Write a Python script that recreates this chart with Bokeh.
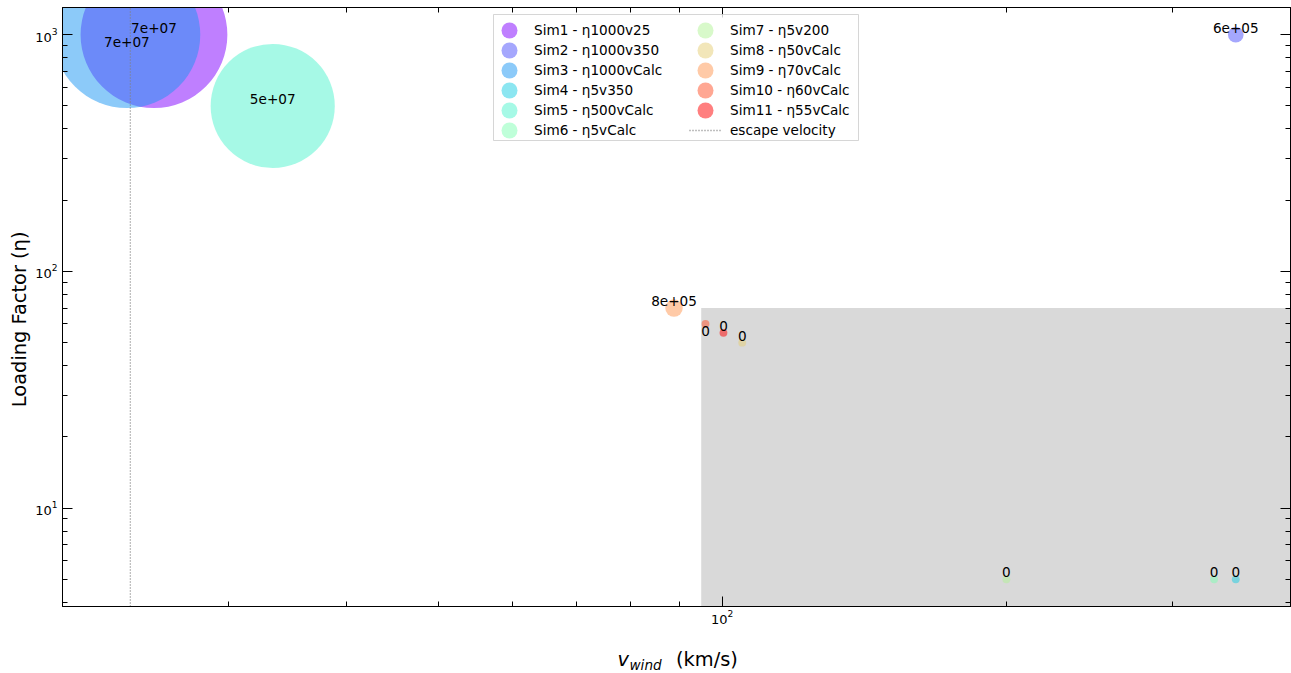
import math

from bokeh.plotting import figure
from bokeh.layouts import column
from bokeh.models import (ColumnDataSource, Range1d, LogAxis, FixedTicker,
                          BoxAnnotation, Legend, LegendItem, Label)
from bokeh.core.properties import value
from bokeh.embed import file_html
from bokeh.resources import INLINE

# ---- simulation runs -------------------------------------------------------
sim_names = ["Sim1", "Sim2", "Sim3", "Sim4", "Sim5", "Sim6",
             "Sim7", "Sim8", "Sim9", "Sim10", "Sim11"]
run_tags = ["η1000v25", "η1000v350", "η1000vCalc", "η5v350", "η500vCalc",
            "η5vCalc", "η5v200", "η50vCalc", "η70vCalc", "η60vCalc", "η55vCalc"]
v_wind = [25.0, 350.0, 23.4, 350.0, 33.4, 332.0, 200.0, 105.0, 88.9, 96.0, 100.3]
loading = [1000, 1000, 1000, 5, 500, 5, 5, 50, 70, 60, 55]
bubble_value = [7e7, 6e5, 7e7, 0, 5e7, 0, 0, 0, 8e5, 0, 0]

# reference quantities
v_escape = 23.6
box_v_min = 95.0
box_eta_max = 70.0

# axis extents and ticks
x_lo, x_hi = 20.0, 400.0
y_lo, y_hi = 3.84, 1303.0
x_major = [100]
x_minor = [20, 30, 40, 50, 60, 70, 80, 90, 200, 300, 400]
y_major = [10, 100, 1000]
y_minor = [4, 5, 6, 7, 8, 9, 20, 30, 40, 50, 60, 70, 80, 90,
           200, 300, 400, 500, 600, 700, 800, 900]

# which value labels sit below their marker instead of above
label_below = [False, False, True, False, False, False,
               False, False, False, True, False]

FONT = "DejaVu Sans"


def rainbow(t):
    """matplotlib's 'rainbow' colormap."""
    r = min(1.0, max(0.0, abs(2 * t - 0.5)))
    g = min(1.0, max(0.0, math.sin(math.pi * t)))
    b = min(1.0, max(0.0, math.cos(math.pi * t / 2)))
    return "#%02x%02x%02x" % (round(r * 255), round(g * 255), round(b * 255))


def marker_diameter(val):
    # marker area in pt^2 grows linearly with the value; convert to px
    area_pt2 = 25.0 + val / 8000.0
    return 2.0 * math.sqrt(area_pt2 / math.pi) * 100.0 / 72.0


n = len(sim_names)
colors = [rainbow(i / (n - 1)) for i in range(n)]

p = figure(width=1291, height=640,
           x_axis_type="log", y_axis_type="log",
           x_range=Range1d(x_lo, x_hi), y_range=Range1d(y_lo, y_hi),
           output_backend="svg", toolbar_location=None,
           min_border_left=62, min_border_right=1,
           min_border_top=7, min_border_bottom=34)
p.grid.visible = False
p.outline_line_color = "black"
p.outline_line_width = 1
p.background_fill_color = "white"
p.border_fill_color = "white"

# shaded region
p.add_layout(BoxAnnotation(left=box_v_min, top=box_eta_max,
                           fill_color="#d9d9d9", fill_alpha=1.0,
                           line_color=None, level="underlay"))

# bubbles, one renderer per run so every run has its own legend entry
legend_items = []
for i in range(n):
    src = ColumnDataSource(dict(x=[v_wind[i]], y=[loading[i]],
                                d=[marker_diameter(bubble_value[i])]))
    r = p.ellipse(x="x", y="y", width="d", height="d",
                  width_units="screen", height_units="screen",
                  source=src, fill_color=colors[i], fill_alpha=0.5,
                  line_color=None)
    legend_items.append(LegendItem(label=f"{sim_names[i]} - {run_tags[i]}",
                                   renderers=[r]))

# escape velocity
esc = p.line(x=[v_escape, v_escape], y=[y_lo, y_hi], line_color="gray",
             line_dash="1 2", line_width=1.3)
legend_items.append(LegendItem(label="escape velocity", renderers=[esc]))

# value labels
labels = ["0" if v == 0 else f"{v:.0e}" for v in bubble_value]
lab_src = ColumnDataSource(dict(
    x=v_wind, y=loading, text=labels,
    off=[7 if below else -7 for below in label_below]))
p.text(x="x", y="y", text="text", y_offset="off", source=lab_src,
       text_align="center", text_baseline="middle",
       text_font=value(FONT), text_font_size="13.6px", text_color="black")

# axes
xticker = FixedTicker(ticks=x_major, minor_ticks=x_minor)
yticker = FixedTicker(ticks=y_major, minor_ticks=y_minor)

xax = p.xaxis[0]
yax = p.yaxis[0]
xax.ticker = xticker
yax.ticker = yticker
xax.axis_label = None
# trailing no-break spaces nudge the rotated title slightly downwards
yax.axis_label = "Loading Factor (η)" + "\u00a0" * 4
yax.axis_label_text_font = FONT
yax.axis_label_text_font_size = "19.4px"
yax.axis_label_text_font_style = "normal"
yax.axis_label_text_color = "black"
yax.axis_label_standoff = 1
xax.major_label_standoff = 3
yax.major_label_standoff = 5

# mirrored tick marks on the top and right edges (no labels)
top = LogAxis(ticker=xticker)
right = LogAxis(ticker=yticker)
for ax in (top, right):
    ax.major_label_text_font_size = "1px"
    ax.major_label_text_color = None
    ax.major_label_standoff = 0
    ax.axis_label = None

for ax in (xax, yax, top, right):
    ax.major_tick_in = 10
    ax.major_tick_out = 0
    ax.minor_tick_in = 5
    ax.minor_tick_out = 0
    ax.axis_line_color = "black"
    ax.major_tick_line_color = "black"
    ax.minor_tick_line_color = "black"
    ax.major_label_text_font = FONT
for ax in (xax, yax):
    ax.major_label_text_font_size = "13px"
    ax.major_label_text_color = "black"

p.add_layout(top, "above")
p.add_layout(right, "right")

# legend: framed box holding two columns of entries
p.add_layout(BoxAnnotation(left=431, right=796, bottom=466, top=592,
                           left_units="screen", right_units="screen",
                           bottom_units="screen", top_units="screen",
                           fill_color="white", fill_alpha=0.8,
                           line_color="#cccccc", line_alpha=0.8,
                           line_width=1))
legend_style = dict(orientation="vertical", glyph_width=32, glyph_height=20,
                    label_height=20, spacing=0, padding=3, label_standoff=9,
                    margin=0, label_text_font=FONT,
                    label_text_font_size="13.6px", label_text_color="black",
                    border_line_color=None, background_fill_alpha=0.0)
p.add_layout(Legend(items=legend_items[:6], location=(431, 466), **legend_style))
p.add_layout(Legend(items=legend_items[6:], location=(627, 466), **legend_style))

# x-axis title strip: v_wind (km/s); its frame lines up with the plot frame,
# so the x range is expressed in page pixels across that frame
q = figure(width=1291, height=33, x_range=Range1d(62, 1290),
           y_range=Range1d(33, 0), output_backend="svg",
           toolbar_location=None, min_border=0,
           x_axis_location=None, y_axis_location=None)
q.grid.visible = False
q.outline_line_color = None
q.background_fill_color = "white"
q.border_fill_color = "white"
title_parts = [
    ("v", 617, 19, "19.4px", "italic"),
    ("wind", 629, 24, "13.6px", "italic"),
    ("(km/s)", 675.5, 19, "19.4px", "normal"),
]
for text, sx, sy, size, style in title_parts:
    q.add_layout(Label(x=sx, y=sy, text=text, text_font=FONT,
                       text_font_size=size, text_font_style=style,
                       text_color="black", text_align="left",
                       text_baseline="alphabetic"))

layout = column(p, q, spacing=0)
open("out.html", "w").write(file_html(layout, INLINE))
